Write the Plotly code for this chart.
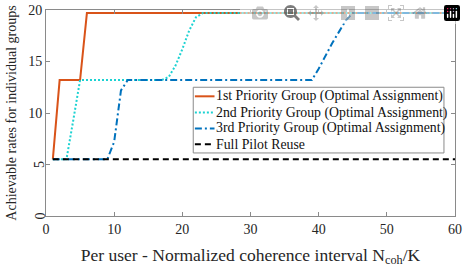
import plotly.graph_objects as go

# 1st priority group
g1_x = [1, 2, 5, 6, 60]
g1_y = [5.5, 13.2, 13.2, 19.7, 19.7]

# 2nd priority group
g2_x = [1, 3, 4, 5, 17, 18, 19, 20, 21, 22, 23, 60]
g2_y = [5.5, 5.5, 9.3, 13.2, 13.2, 13.5, 14.6, 16.2, 18.0, 19.3, 19.7, 19.7]

# 3rd priority group
g3_x = [1, 9, 10, 11, 12, 39, 40, 41, 42, 43, 44, 45, 60]
g3_y = [5.5, 5.5, 7.2, 12.2, 13.2, 13.2, 14.3, 15.6, 16.8, 17.9, 19.0, 19.7, 19.7]

# Full pilot reuse
fp_x = [1, 60]
fp_y = [5.5, 5.5]

names = ["1st Priority Group (Optimal Assignment)",
         "2nd Priority Group (Optimal Assignment)",
         "3rd Priority Group (Optimal Assignment)",
         "Full Pilot Reuse"]
colors = ["#D95319", "#1CD2D2", "#0072BD", "black"]
dashes = ["solid", "2px,2px", "7px,3px,2px,3px", "6px,4px"]
series_x = [g1_x, g2_x, g3_x, fp_x]
series_y = [g1_y, g2_y, g3_y, fp_y]

font = "Liberation Serif"
axcol = "#8a8a8a"

fig = go.Figure()
for xs, ys, nm, c, d in zip(series_x, series_y, names, colors, dashes):
    fig.add_trace(go.Scatter(x=xs, y=ys, mode="lines", name=nm, showlegend=False,
                             line=dict(color=c, width=2, dash=d)))

fig.update_layout(
    width=466, height=272,
    margin=dict(l=45.5, r=11, t=9.5, b=56, autoexpand=False),
    paper_bgcolor="white", plot_bgcolor="white",
    font=dict(family=font, size=14, color="#262626"),
    showlegend=False,
)
fig.update_xaxes(range=[0, 60], tickvals=[0, 10, 20, 30, 40, 50, 60],
                 showgrid=False, zeroline=False, showline=True, mirror="ticks",
                 linecolor=axcol, linewidth=1, ticks="inside", ticklen=4,
                 tickcolor=axcol, tickfont=dict(family=font, size=14), automargin=False,
                 title=dict(text="Per user - Normalized coherence interval N<sub>coh</sub>/K",
                            font=dict(family=font, size=17.5), standoff=12))
fig.update_yaxes(range=[0, 20], tickvals=[0, 5, 10, 15, 20],
                 ticktext=[" ", " ", "10", "15", "20"],
                 showgrid=False, zeroline=False, showline=True, mirror="ticks",
                 linecolor=axcol, linewidth=1, ticks="inside", ticklen=4,
                 tickcolor=axcol, tickfont=dict(family=font, size=14), automargin=False,
                 title=dict(text="Achievable rates for individual groups",
                            font=dict(family=font, size=14), standoff=8))
for v in [5, 0]:
    fig.add_annotation(x=0, y=v, xref="paper", yref="y", text=str(v),
                       textangle=-90, showarrow=False, xanchor="right",
                       xshift=3, font=dict(family=font, size=14, color="#262626"))

# legend box (manual, to match the compact original legend)
lx0, lx1, ly0, ly1 = 0.360, 0.973, 0.306, 0.625
fig.add_shape(type="rect", xref="paper", yref="paper", x0=lx0, x1=lx1, y0=ly0, y1=ly1,
              line=dict(color=axcol, width=1), fillcolor="white", layer="above")
row_y = [0.581, 0.502, 0.425, 0.348]
for ry, nm, c, d in zip(row_y, names, colors, dashes):
    fig.add_shape(type="line", xref="paper", yref="paper", x0=0.364, x1=0.412, y0=ry, y1=ry,
                  line=dict(color=c, width=2, dash=d), layer="above")
    fig.add_annotation(x=0.411, y=ry, xref="paper", yref="paper", text=nm,
                       showarrow=False, xanchor="left", yanchor="middle",
                       font=dict(family=font, size=13.8, color="#111"))

fig.write_html("out.html",
               post_script="document.body.style.margin='0';document.body.style.overflow='hidden';")
